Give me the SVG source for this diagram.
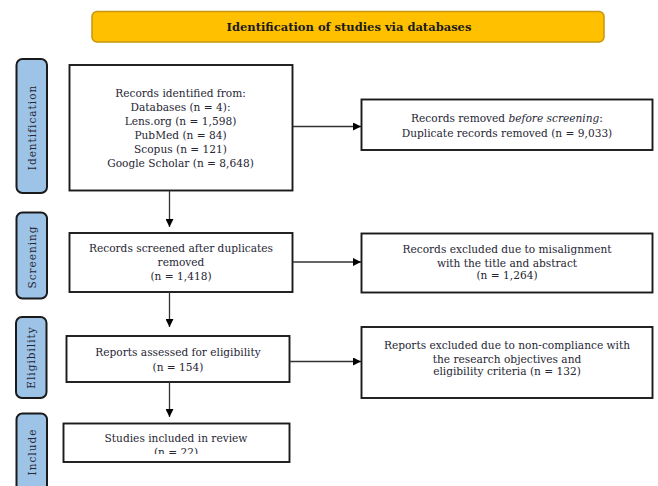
<svg xmlns="http://www.w3.org/2000/svg" width="658" height="486" viewBox="0 0 658 486">
<defs>
<style>
.bg{fill:#ffffff}
.box{fill:#ffffff;stroke:#1a1a1a;stroke-width:1.9}
.side{fill:#9dc3e6;stroke:#1a1a1a;stroke-width:2}
.title{fill:#ffc000;stroke:#c8960a;stroke-width:1.5}
.t{font-family:"DejaVu Serif","Liberation Serif",serif;font-size:10.6px;fill:#262634;text-anchor:middle}
.tt{font-family:"DejaVu Serif","Liberation Serif",serif;font-size:11.5px;font-weight:bold;fill:#1a1a1a;text-anchor:middle}
.sl{font-family:"DejaVu Serif","Liberation Serif",serif;font-size:10.5px;fill:#262634;text-anchor:middle;letter-spacing:1px}
.c{stroke:#333333;stroke-width:1.3;fill:none}
</style>
<marker id="ah" viewBox="0 0 10 10" refX="10" refY="5" markerWidth="8" markerHeight="8" markerUnits="userSpaceOnUse" orient="auto">
<path d="M0,0 L10,5 L0,10 z" fill="#000000"/>
</marker>
<clipPath id="clipInc"><rect x="0" y="0" width="658" height="454"/></clipPath>
</defs>
<rect class="bg" x="0" y="0" width="658" height="486"/>

<g id="title">
<rect class="title" x="92" y="11.5" width="512" height="30.5" rx="5"/>
<text class="tt" x="349" y="31">Identification of studies via databases</text>
</g>

<g id="label-identification">
<rect class="side" x="16.5" y="59" width="30.5" height="134" rx="6"/>
<text class="sl" transform="translate(35.5,127.5) rotate(-90)">Identification</text>
</g>
<g id="label-screening">
<rect class="side" x="16.5" y="212.5" width="30.5" height="86" rx="6"/>
<text class="sl" transform="translate(35.5,257) rotate(-90)">Screening</text>
</g>
<g id="label-eligibility">
<rect class="side" x="16" y="317" width="30.5" height="81" rx="6"/>
<text class="sl" transform="translate(35,357.5) rotate(-90)">Eligibility</text>
</g>
<g id="label-include">
<rect class="side" x="16.5" y="413.5" width="30.5" height="80" rx="6"/>
<text class="sl" transform="translate(35.5,452) rotate(-90)">Include</text>
</g>

<g id="records-identified">
<rect class="box" x="69.5" y="65" width="223" height="125.5"/>
<text class="t" x="180.5" y="97">Records identified from:</text>
<text class="t" x="180.5" y="111">Databases  (n = 4):</text>
<text class="t" x="180.5" y="125">Lens.org (n = 1,598)</text>
<text class="t" x="180.5" y="139">PubMed  (n = 84)</text>
<text class="t" x="180.5" y="153">Scopus  (n = 121)</text>
<text class="t" x="180.5" y="167">Google Scholar (n = 8,648)</text>
</g>

<g id="records-removed">
<rect class="box" x="361.5" y="99.5" width="291" height="50.5"/>
<text class="t" x="507" y="122">Records removed <tspan font-style="italic">before screening</tspan>:</text>
<text class="t" x="507" y="137">Duplicate  records removed (n = 9,033)</text>
</g>

<g id="records-screened">
<rect class="box" x="69.5" y="233" width="223" height="59"/>
<text class="t" x="181" y="251.5">Records screened  after duplicates</text>
<text class="t" x="181" y="265.5">removed</text>
<text class="t" x="181" y="280">(n = 1,418)</text>
</g>

<g id="records-excluded">
<rect class="box" x="361.5" y="233.5" width="291" height="59"/>
<text class="t" x="507" y="253">Records excluded due to misalignment</text>
<text class="t" x="507" y="266.5">with the title and abstract</text>
<text class="t" x="507" y="279">(n = 1,264)</text>
</g>

<g id="reports-assessed">
<rect class="box" x="66.5" y="336" width="223" height="46"/>
<text class="t" x="178" y="355.5">Reports assessed  for eligibility</text>
<text class="t" x="178" y="370.5">(n = 154)</text>
</g>

<g id="reports-excluded">
<rect class="box" x="361.5" y="327" width="291" height="71"/>
<text class="t" x="507" y="349">Reports excluded  due to non-compliance  with</text>
<text class="t" x="507" y="362.5">the research  objectives and</text>
<text class="t" x="507" y="375">eligibility criteria  (n = 132)</text>
</g>

<g id="studies-included">
<rect class="box" x="63.5" y="423.5" width="226" height="38.5"/>
<text class="t" x="176" y="442">Studies included  in  review</text>
<text class="t" x="176" y="456" clip-path="url(#clipInc)">(n = 22)</text>
</g>

<g id="connectors">
<line class="c" x1="292.5" y1="126.5" x2="361" y2="126.5" marker-end="url(#ah)"/>
<line class="c" x1="169.5" y1="190.5" x2="169.5" y2="227" marker-end="url(#ah)"/>
<line class="c" x1="292.5" y1="262" x2="361" y2="262" marker-end="url(#ah)"/>
<line class="c" x1="169.5" y1="292" x2="169.5" y2="327" marker-end="url(#ah)"/>
<line class="c" x1="289.5" y1="361.5" x2="361" y2="361.5" marker-end="url(#ah)"/>
<line class="c" x1="169.5" y1="382" x2="169.5" y2="417" marker-end="url(#ah)"/>
</g>
</svg>
